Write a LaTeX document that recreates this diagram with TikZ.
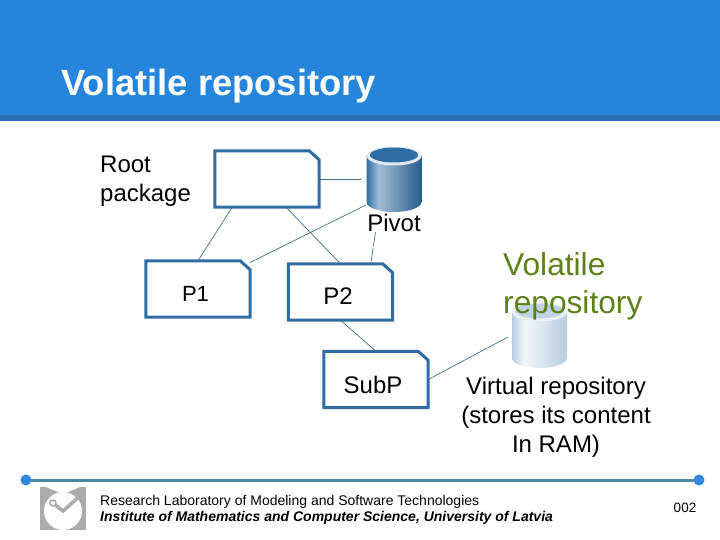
\documentclass[tikz,border=0pt]{standalone}
\usepackage{fontspec}
\setmainfont{Liberation Sans}

\definecolor{headblue}{HTML}{2585DC}
\definecolor{headdark}{HTML}{2A6FAE}
\definecolor{boxblue}{HTML}{2E6DA4}
\definecolor{linkblue}{HTML}{3F6F86}
\definecolor{ruleblue}{HTML}{4A8AA8}
\definecolor{dotblue}{HTML}{2F86DD}
\definecolor{voltgreen}{HTML}{5F8019}
\definecolor{logogray}{HTML}{ABABAB}

\pgfdeclarehorizontalshading{pivotshade}{100bp}{color(0bp)=(boxblue); color(25bp)=(boxblue); color(36bp)=(boxblue!45!white); color(75bp)=(boxblue!85!black); color(100bp)=(boxblue!85!black)}
\pgfdeclarehorizontalshading{volatileshade}{100bp}{color(0bp)=(boxblue!35!white); color(25bp)=(boxblue!35!white); color(36bp)=(boxblue!6!white); color(75bp)=(boxblue!35!white); color(100bp)=(boxblue!35!white)}

\newcommand{\pkgoutline}[1]{\draw[draw=boxblue, line width=3pt] (#1.south west) -- (#1.north west) -- ([xshift=-10pt]#1.north east) -- ([yshift=-9pt]#1.north east) -- (#1.south east) -- cycle;}

\tikzset{
  pkg/.style={rectangle, minimum width=104pt, minimum height=56pt, inner sep=0pt},
  link/.style={draw=linkblue, line width=0.7pt},
  label/.style={font=\fontsize{24}{29}\selectfont, inner sep=0pt, align=left},
  repo/.style={rectangle, minimum width=55pt, minimum height=66pt, inner sep=0pt}
}

\begin{document}
\begin{tikzpicture}[x=1pt, y=-1pt]

\useasboundingbox (0,0) rectangle (720,540);

% Header band
\fill[headblue] (0,0) rectangle (720,115);
\fill[headdark] (0,115) rectangle (720,121);
\node[anchor=base west, inner sep=0pt, text=white, font=\fontsize{36.4}{40}\selectfont\bfseries] (title) at (61,96) {Volatile repository};

% Packages
\node[pkg] (root) at (267,179) {};
\node[pkg] (p1) at (198,289) {};
\node[pkg] (p2) at (340.5,292) {};
\node[pkg] (subp) at (376,379.5) {};
\pkgoutline{root}
\pkgoutline{p1}
\pkgoutline{p2}
\pkgoutline{subp}

% Pivot repository
\node[repo] (pivot) at (394,179) {};
\shade[shading=pivotshade] (366.5,156) -- (366.5,202) arc[start angle=180, end angle=0, x radius=27.5, y radius=10] -- (421.5,156) -- cycle;
\fill[white!85!boxblue] (394,156) ellipse (27.5 and 9.5);
\fill[boxblue] (394,155) ellipse (24 and 7.5);

% Volatile repository
\node[repo] (volatile) at (539.5,335) {};
\shade[shading=volatileshade] (512,312) -- (512,358) arc[start angle=180, end angle=0, x radius=27.5, y radius=10] -- (567,312) -- cycle;
\fill[white!90!boxblue] (539.5,312) ellipse (27.5 and 9.5);
\fill[boxblue!30!white] (539.5,311) ellipse (24 and 7.5);

% Labels
\node[label, anchor=base, font=\fontsize{22}{26}\selectfont] (p1label) at (195.5,301) {P1};
\node[label, anchor=base] (p2label) at (338,304) {P2};
\node[label, anchor=base] (subplabel) at (373,393) {SubP};
\node[label, anchor=base west] (rootlabel) at (100,202) {Root\\package};
\node[label, anchor=base] (pivotlabel) at (394,232) {Pivot};
\node[anchor=base west, inner sep=0pt, align=left, text=voltgreen, font=\fontsize{31.7}{38}\selectfont] (voltlabel) at (503,313) {Volatile\\repository};
\node[label, align=center, anchor=base] (virtuallabel) at (556,452) {Virtual repository\\(stores its content\\In RAM)};

% Connectors
\coordinate (pivotfoot) at (375.5,232);
\draw[link] (root.304) -- (p2.north);
\draw[link] (root.219) -- (p1.north);
\draw[link, shorten >=5pt] (root.east) -- (pivot.west);
\draw[link] (pivot.223) -- (p1.27);
\draw[link, dash pattern=on 14pt off 2pt] (pivotfoot) -- (p2.43);
\draw[link] (p2.south) -- (subp.north);
\draw[link, shorten >=4pt] (subp.east) -- (volatile.west);

% Footer rule
\coordinate (ruleleft) at (26,480);
\coordinate (ruleright) at (699,480);
\draw[ruleblue, line width=3pt] (ruleleft) -- (ruleright);
\fill[dotblue] (ruleleft) circle (5.5);
\fill[dotblue] (ruleright) circle (5.5);

% Logo
\fill[logogray] (40,487) rectangle (86,530);
\fill[white] (63,511) circle (19);
\fill[white] (46,487) -- (80,487) -- (63,494) -- cycle;
\draw[logogray, line width=3.5pt] (54,504) -- (63,511) -- (80,496);
\draw[logogray, fill=white, line width=1.5pt] (53,503) circle (3);

% Footer text
\node[anchor=base west, inner sep=0pt, font=\fontsize{14}{16}\selectfont] (lab) at (100,505) {Research Laboratory of Modeling and Software Technologies};
\node[anchor=base west, inner sep=0pt, font=\fontsize{14}{16}\selectfont\bfseries\itshape] (inst) at (100,521) {Institute of Mathematics and Computer Science, University of Latvia};
\node[anchor=base, inner sep=0pt, font=\fontsize{13.5}{15}\selectfont] (pagenum) at (685,512) {002};

\end{tikzpicture}
\end{document}
